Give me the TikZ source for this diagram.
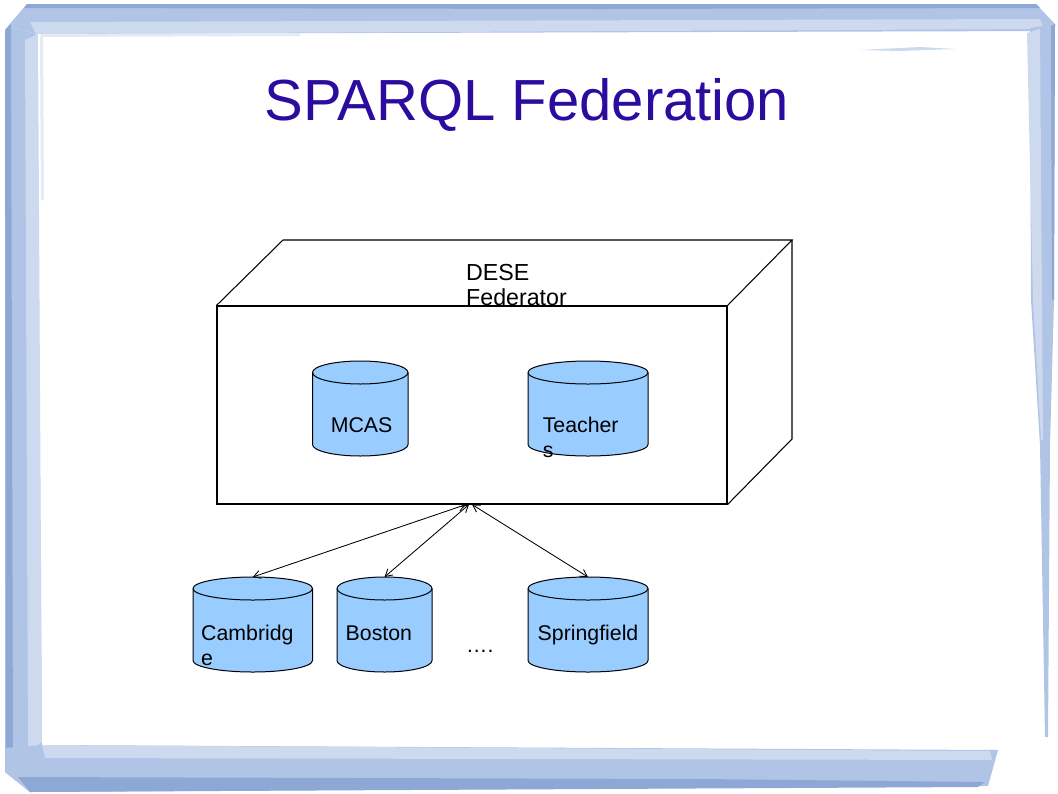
\documentclass[tikz,border=0pt]{standalone}
\usepackage{fontspec}
\setmainfont{Liberation Sans}
\usetikzlibrary{arrows.meta,calc}
\definecolor{titleblue}{RGB}{43,12,158}
\definecolor{cylblue}{RGB}{153,204,255}
\definecolor{frA}{RGB}{205,217,238}
\definecolor{frB}{RGB}{176,196,230}
\definecolor{frC}{RGB}{142,168,214}
\definecolor{frD}{RGB}{228,234,246}
\newcommand\dbcyl[5]{%
  \pgfmathsetmacro\cylrx{(#3-#2)/2}%
  \pgfmathsetmacro\cylcx{(#3+#2)/2}%
  \path[cylfill] (#2,#4+11.5) -- (#2,#5-11.5)
    arc[start angle=180,end angle=360,x radius=\cylrx pt,y radius=11.5pt]
    -- (#3,#4+11.5)
    arc[start angle=0,end angle=180,x radius=\cylrx pt,y radius=11.5pt] -- cycle;
  \draw[cylline] (#2,#4+11.5)
    arc[start angle=180,end angle=360,x radius=\cylrx pt,y radius=11.5pt];
  \coordinate (#1) at (\cylcx,#4);
}
\begin{document}
\begin{tikzpicture}[x=1pt,y=-1pt,
  lbl/.style={inner sep=0pt, anchor=base west, font=\fontsize{21.3}{25}\selectfont},
  biglbl/.style={inner sep=0pt, anchor=base west, font=\fontsize{23.2}{26}\selectfont},
  cylfill/.style={fill=cylblue, draw=black, line width=1pt},
  cylline/.style={draw=black, line width=1pt},
  boxline/.style={draw=black, line width=1.05pt, line join=miter},
  link/.style={line width=0.85pt, {Straight Barb[length=7pt,width=8pt]}-{Straight Barb[length=7pt,width=8pt]}}]

% page
\fill[white] (0,0) rectangle (1058,793);
\useasboundingbox (0,0) rectangle (1058,793);

% painted frame
% top band
\fill[frB] (8,26) -- (27,4) -- (1036,4) -- (1055,24) -- (1050,31) -- (36,34) -- cycle;
\fill[frA] (30,22) -- (1040,19) -- (1044,29) -- (36,34) -- cycle;
\fill[frC] (24,8) -- (27,4) -- (1036,4) -- (1040,8) -- (600,9) -- cycle;
\fill[frD] (40,34) -- (300,33) -- (300,36) -- (42,37) -- cycle;
\fill[frA] (860,50) -- (920,47) -- (955,49) -- (900,51) -- cycle;
% left band
\fill[frB] (8,26) -- (36,34) -- (42,745) -- (30,792) -- (5,772) -- (5,30) -- cycle;
\fill[frC] (5,30) -- (11,24) -- (13,760) -- (6,770) -- cycle;
\fill[frA] (25,40) -- (38,34) -- (42,742) -- (28,752) -- cycle;
\fill[frD] (40,36) -- (43,36) -- (44,200) -- (41,200) -- cycle;
% bottom band
\fill[frB] (5,748) -- (42,745) -- (998,750) -- (988,786) -- (30,792) -- (5,772) -- cycle;
\fill[frA] (42,745) -- (990,751) -- (992,760) -- (45,758) -- cycle;
\fill[frC] (18,777) -- (700,779) -- (985,782) -- (978,787) -- (30,792) -- cycle;
% right band
\fill[frB] (1030,28) -- (1055,24) -- (1054,300) -- (1050,445) -- (1048,737) -- (1045,737) -- (1040,445) -- (1031,300) -- cycle;
\fill[frA] (1027,33) -- (1040,29) -- (1042,300) -- (1043,440) -- (1041,440) -- (1033,300) -- cycle;
\fill[frC] (1051,26) -- (1055,24) -- (1054,300) -- (1052,300) -- cycle;

% title
\node[inner sep=0pt, anchor=base, text=titleblue, font=\fontsize{58}{70}\selectfont] (title) at (527,120) {SPARQL Federation};

% federator box
\node[boxline, minimum width=510pt, minimum height=198pt, inner sep=0pt] (front) at (472,405) {};
\draw[boxline] (front.north west) -- (283,240) -- (792,240) -- (front.north east);
\draw[boxline] (792,240) -- (792,439) -- (front.south east);
\node[biglbl] (dese) at (466,280) {DESE};
\node[biglbl] (feder) at (466,305.5) {Federator};

% inner stores
\dbcyl{mcas}{312.5}{408}{361}{456}
\dbcyl{teach}{528}{648}{361}{456}
\node[lbl] (tmcas) at (330.6,432) {MCAS};
\node[lbl] (tteach1) at (542.6,432) {Teacher};
\node[lbl] (tteach2) at (542.6,457) {s};

% outer stores
\dbcyl{camb}{193}{312.5}{577}{672}
\dbcyl{bost}{337}{432}{577}{672}
\dbcyl{spring}{528}{648}{577}{672}
\node[lbl] (tcamb1) at (201,640) {Cambridg};
\node[lbl] (tcamb2) at (201,665) {e};
\node[lbl] (tbost) at (345.5,640) {Boston};
\node[lbl] (tspring) at (537.5,640) {Springfield};
\node[lbl] (tdots) at (466,652) {….};

% links
\draw[link] ($(front.south)+(-6,0)$) -- (camb);
\draw[link] ($(front.south)+(-3,0)$) -- (bost);
\draw[link] (front.south) -- (spring);
\end{tikzpicture}
\end{document}
